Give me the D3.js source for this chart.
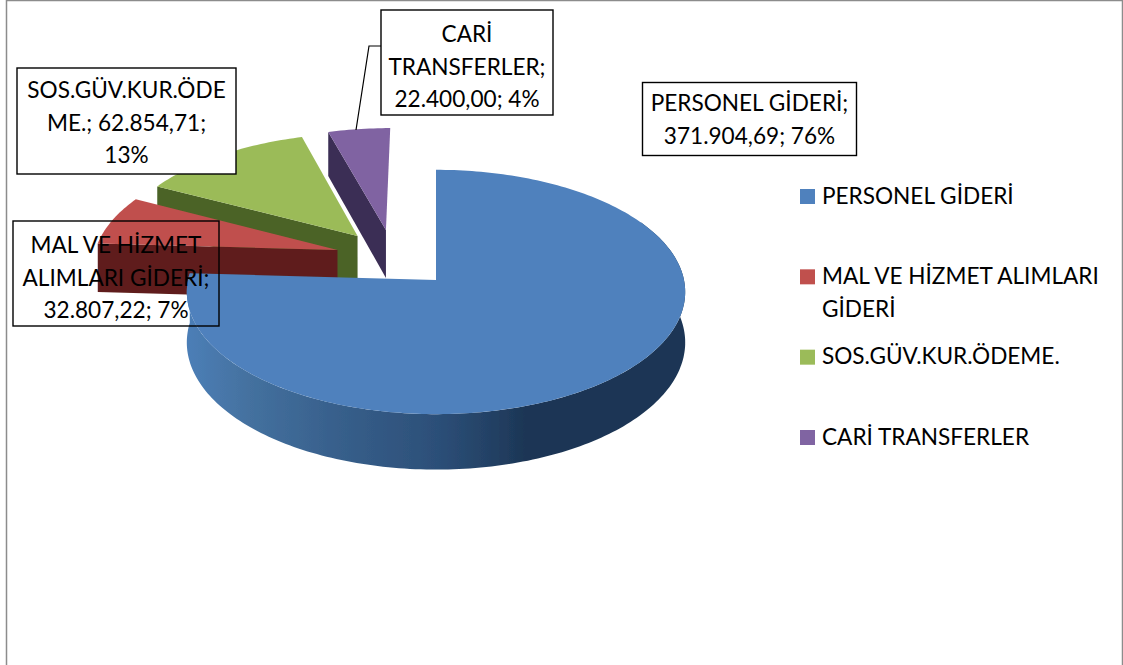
<!DOCTYPE html>
<html><head><meta charset="utf-8">
<script src="https://cdn.jsdelivr.net/npm/d3@7"></script>
<style>html,body{margin:0;padding:0;background:#fff}svg{display:block}text{font-family:Lato,"Open Sans",sans-serif;fill:#000}</style>
</head><body><div id="c"></div>
<script>
const categories = ["PERSONEL GİDERİ","MAL VE HİZMET ALIMLARI GİDERİ","SOS.GÜV.KUR.ÖDEME.","CARİ TRANSFERLER"];
const values = [371904.69,32807.22,62854.71,22400.00];
const percents = [76,7,13,4];
const topColors = ["#4f81bd","#c0504d","#9bbb59","#8064a2"];
const sideColors = ["#2b4d75","#5e1f1b","#4b6326","#3b2d54"];
const legendLines = [["PERSONEL GİDERİ"],["MAL VE HİZMET ALIMLARI","GİDERİ"],["SOS.GÜV.KUR.ÖDEME."],["CARİ TRANSFERLER"]];
const labelLines = [["PERSONEL GİDERİ;","371.904,69; 76%"],["MAL VE HİZMET","ALIMLARI GİDERİ;","32.807,22; 7%"],["SOS.GÜV.KUR.ÖDE","ME.; 62.854,71;","13%"],["CARİ","TRANSFERLER;","22.400,00; 4%"]];

const W=1123,H=665,FS=22.6;
const svg=d3.select("#c").append("svg").attr("width",W).attr("height",H);
const defs=svg.append("defs");
defs.append("filter").attr("id","soft").attr("x","-5%").attr("y","-5%").attr("width","110%").attr("height","110%")
  .append("feGaussianBlur").attr("stdDeviation",0.6);
const grad=defs.append("linearGradient").attr("id","blueSide").attr("gradientUnits","userSpaceOnUse")
  .attr("x1",189).attr("x2",687).attr("y1",0).attr("y2",0);
[[0,"#4c7eb6"],[0.12,"#44719f"],[0.3,"#375f8b"],[0.5,"#2c4f78"],[0.62,"#223f62"],[0.68,"#1c3554"],[1,"#1b3654"]]
  .forEach(s=>grad.append("stop").attr("offset",s[0]).attr("stop-color",s[1]));

// frame
svg.append("path").attr("d",`M6.5,665V0.5H1122.5V665`).attr("fill","none").attr("stroke","#8c8c8c").attr("stroke-width",1.5);

// perspective disc projection
const xS=d3.scaleLinear().domain([-1,1]).range([436-248,436+248]);
const yS=d3.scaleLinear().domain([-1,1]).range([280-121,280+121]);
const persp=0.098, depth=50;
const project=(u,v,drop)=>{const w=1/(1-persp*v);
  return [xS(0)+(xS(u)-xS(0))*w,yS(0)+(yS(v)-yS(0))*w+(drop?depth*w:0)];};

const explodeSize=[0,0.48,0.5,0.48];
const explodeDir=[0,302,319,334];
const rad=d=>d*Math.PI/180;
const arcs=d3.pie().sort(null).value(d=>d)(values).map((a,i)=>{
  const e=explodeSize[i],t=rad(explodeDir[i]);
  return {...a,i,ou:e*Math.sin(t),ov:-e*Math.cos(t)};
});
const rim=(a,t,drop)=>project(a.ou+Math.sin(t),a.ov-Math.cos(t),drop);
const apex=(a,drop)=>project(a.ou,a.ov,drop);
const line=d3.line();
const samples=(t0,t1)=>{const n=Math.max(8,Math.ceil((t1-t0)/0.02));return d3.range(n+1).map(k=>t0+(t1-t0)*k/n);};

const pieG=svg.append("g").attr("filter","url(#soft)");
function drawSlice(a,g){
  if(a.i===0){
    const ts=samples(rad(60),a.endAngle);
    g.append("path").attr("fill","url(#blueSide)")
      .attr("d",line(ts.map(t=>rim(a,t,false)).concat(ts.slice().reverse().map(t=>rim(a,t,true))))+"Z");
  } else {
    g.append("path").attr("fill",sideColors[a.i])
      .attr("d",line([apex(a,false),rim(a,a.startAngle,false),rim(a,a.startAngle,true),apex(a,true)])+"Z");
  }
  g.append("path").attr("fill",topColors[a.i])
    .attr("d",line([apex(a,false)].concat(samples(a.startAngle,a.endAngle).map(t=>rim(a,t,false))))+"Z");
}
[3,2,1,0].forEach(i=>drawSlice(arcs[i],pieG.append("g").attr("class","slice")));

// leader line for the small slice
svg.append("path").attr("fill","none").attr("stroke","#000").attr("stroke-width",1.2).attr("d","M381,46H369L356,130");

// data labels
const boxes=[
  {x:642.5,y:82.5,w:214,h:73,fill:"#fff",base:111},
  {x:13,y:221,w:206,h:105,fill:"none",base:253},
  {x:17,y:68,w:219,h:106,fill:"#fff",base:98},
  {x:381,y:10,w:172,h:105,fill:"#fff",base:42}
];
const labels=svg.append("g").selectAll("g").data(labelLines).join("g");
labels.append("rect").attr("x",(d,i)=>boxes[i].x).attr("y",(d,i)=>boxes[i].y)
  .attr("width",(d,i)=>boxes[i].w).attr("height",(d,i)=>boxes[i].h)
  .attr("fill",(d,i)=>boxes[i].fill).attr("stroke","#000").attr("stroke-width",1.4);
labels.each(function(d,i){
  d3.select(this).selectAll("text").data(d).join("text")
    .attr("x",boxes[i].x+boxes[i].w/2).attr("y",(s,k)=>boxes[i].base+k*32.5)
    .attr("text-anchor","middle").attr("font-size",FS).text(s=>s);
});

// legend
const legY=d3.scalePoint().domain(categories).range([196.5,437.5]);
const leg=svg.append("g").selectAll("g").data(categories).join("g");
leg.append("rect").attr("x",800).attr("width",15).attr("height",15)
  .attr("y",d=>legY(d)-7.5).attr("fill",(d,i)=>topColors[i]);
leg.each(function(d,i){
  d3.select(this).selectAll("text").data(legendLines[i]).join("text")
    .attr("x",822).attr("y",(s,k)=>legY(d)+7+k*33).attr("font-size",FS).text(s=>s);
});
</script></body></html>
